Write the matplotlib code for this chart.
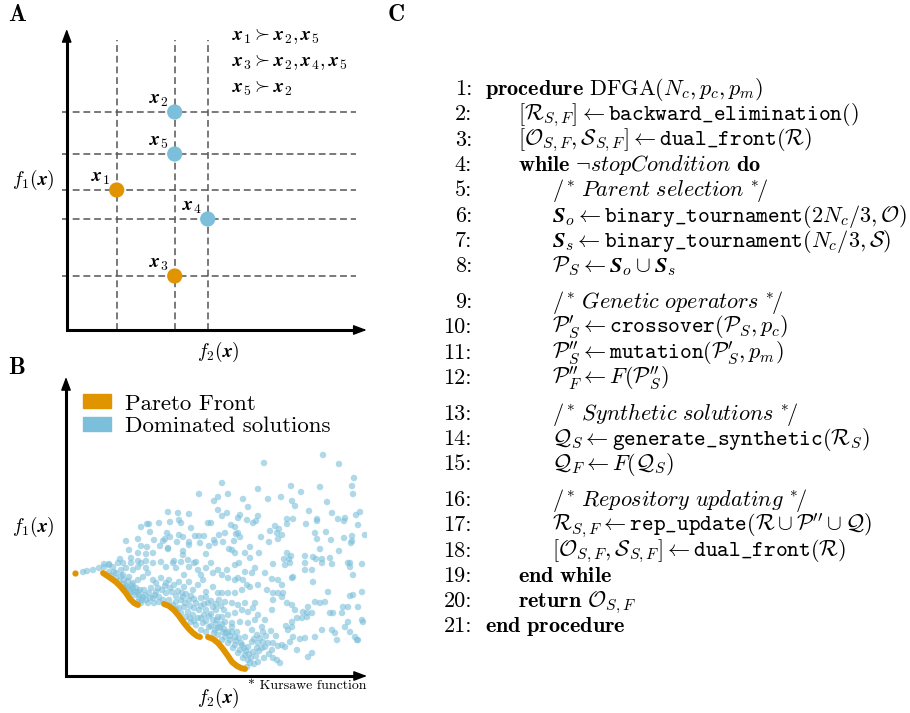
import matplotlib.pyplot as plt
from matplotlib.patches import Patch

plt.rcParams['mathtext.fontset'] = 'cm'
plt.rcParams['font.family'] = 'serif'
plt.rcParams['font.serif'] = ['cmr10']
plt.rcParams['axes.unicode_minus'] = False

ORANGE = '#E09400'
BLUE = '#7BBFDB'
W, H = 910, 713

# ---- panel A: toy dominance example ----
labels_A = ['1', '2', '3', '4', '5']
f2_A = [50, 108, 108, 141, 108]
f1_A = [140, 218, 54, 111, 176]
on_front_A = [True, False, True, False, False]
dominance_A = [r'$\mathbfit{x}_1 \succ \mathbfit{x}_2,\mathbfit{x}_5$',
               r'$\mathbfit{x}_3 \succ \mathbfit{x}_2,\mathbfit{x}_4,\mathbfit{x}_5$',
               r'$\mathbfit{x}_5 \succ \mathbfit{x}_2$']

# ---- panel B: Kursawe function ----
front_B = [
    [(9, 103)],
    [(37, 103), (43, 99), (50, 94), (55, 89), (60, 83), (64, 77), (68, 73), (72, 71)],
    [(98, 72), (103, 70), (108, 66), (113, 60), (118, 53), (123, 47), (127, 43), (131, 40), (134, 39)],
    [(142, 39), (147, 37), (152, 33), (157, 27), (162, 20), (166, 14), (171, 10), (175, 8), (179, 7)],
]
dominated_B = [
    (133, 182), (148, 175), (152, 179), (152, 166), (102, 164), (112, 163), (123, 162), (81, 152),
    (75, 149), (83, 152), (93, 153), (104, 154), (113, 156), (115, 153), (142, 153), (145, 153),
    (125, 148), (84, 144), (101, 143), (113, 141), (117, 139), (129, 140), (133, 140), (138, 140),
    (153, 141), (60, 135), (72, 137), (88, 136), (97, 135), (99, 137), (104, 139), (111, 134),
    (123, 134), (134, 133), (148, 136), (75, 130), (81, 129), (94, 130), (102, 128), (123, 131),
    (143, 130), (63, 126), (72, 123), (80, 122), (87, 123), (102, 127), (117, 125), (117, 121),
    (140, 122), (65, 118), (54, 117), (72, 115), (80, 115), (95, 114), (108, 115), (122, 116),
    (130, 114), (145, 113), (38, 112), (43, 112), (52, 113), (57, 113), (65, 113),
    (257, 221), (198, 213), (273, 212), (288, 198), (156, 193), (286, 190), (192, 187), (225, 190),
    (254, 189), (162, 182), (215, 179), (235, 184), (287, 182), (177, 177), (202, 177), (226, 175),
    (261, 174), (229, 170), (182, 169), (243, 165), (266, 163), (294, 164), (290, 161), (161, 163),
    (156, 160), (174, 161), (192, 160), (172, 158), (181, 156), (190, 155), (187, 153), (221, 157),
    (227, 157), (251, 157), (251, 155), (272, 157), (279, 158), (278, 155), (165, 151), (169, 149),
    (209, 150), (221, 152), (240, 152), (292, 151), (159, 143), (170, 142), (172, 143), (204, 145),
    (211, 143), (213, 147), (216, 141), (249, 143), (260, 144), (286, 140), (299, 141), (149, 133),
    (157, 134), (168, 135), (174, 139), (195, 139), (203, 134), (212, 137), (251, 137), (265, 136),
    (278, 138), (285, 133), (286, 135), (163, 127), (166, 126), (169, 123), (184, 129), (254, 127),
    (273, 125), (179, 123), (193, 123), (221, 123), (225, 120), (218, 117), (223, 117), (239, 120),
    (247, 119), (250, 117), (256, 117), (264, 118), (173, 113), (184, 118), (207, 112), (239, 113),
    (256, 113), (266, 112), (284, 113),
    (17, 104), (21, 105), (27, 106), (33, 108), (38, 109), (43, 111), (47, 109), (55, 106),
    (60, 108), (67, 106), (72, 109), (75, 113), (80, 108), (87, 113), (100, 109), (107, 113),
    (110, 108), (115, 114), (118, 101), (123, 109), (128, 113), (132, 106), (135, 101), (140, 108),
    (147, 103), (152, 106), (43, 104), (50, 103), (57, 101), (58, 96), (63, 99), (67, 93),
    (72, 96), (77, 99), (82, 103), (87, 96), (90, 93), (95, 98), (100, 93), (103, 96),
    (108, 91), (113, 94), (118, 89), (123, 94), (127, 86), (132, 91), (137, 96), (140, 84),
    (147, 89), (152, 83), (62, 89), (65, 84), (68, 81), (72, 84), (73, 78), (77, 79),
    (80, 76), (83, 83), (87, 78), (90, 84), (93, 79), (97, 76), (100, 83), (72, 74),
    (78, 86), (85, 88), (67, 88), (75, 73), (82, 73), (88, 73), (93, 74), (103, 76),
    (107, 71), (110, 74), (113, 68), (115, 63), (118, 69), (120, 59), (122, 64), (125, 54),
    (127, 61), (130, 51), (132, 58), (133, 66), (135, 46), (137, 53), (138, 61), (140, 44),
    (142, 73), (143, 49), (147, 56), (148, 43), (150, 66), (152, 48), (153, 76), (117, 79),
    (123, 76), (130, 73), (140, 79), (147, 69), (152, 59),
    (149, 46), (152, 41), (156, 36), (159, 39), (162, 33), (164, 36), (167, 28), (169, 31),
    (172, 23), (174, 26), (177, 18), (179, 21), (182, 16), (184, 13), (181, 9), (154, 49),
    (157, 44), (162, 44), (169, 39), (176, 31), (166, 49), (171, 44), (179, 39), (182, 29),
    (186, 34), (191, 28), (196, 28), (199, 29), (202, 33), (192, 33), (197, 34), (206, 26),
    (207, 18), (211, 16), (214, 13), (216, 31), (219, 29), (224, 34), (231, 26), (242, 19),
    (246, 23), (249, 39), (239, 38), (234, 37), (227, 39), (222, 46), (226, 49), (220, 50),
    (226, 54), (231, 58), (236, 58), (241, 59), (246, 63), (242, 69), (249, 74), (256, 46),
    (266, 46), (269, 43), (271, 36), (279, 49), (284, 44), (289, 39), (292, 36), (297, 54),
    (296, 56), (282, 54), (277, 69), (282, 69), (292, 69), (287, 81), (284, 80), (296, 84),
    (262, 84), (259, 74), (254, 73), (264, 63), (267, 63), (276, 63), (241, 63), (237, 64),
    (229, 66), (226, 71), (221, 73), (216, 79), (212, 83), (207, 83), (217, 83), (206, 97),
    (212, 96), (216, 91), (226, 98), (227, 99), (224, 113), (219, 111), (246, 106), (239, 106),
    (247, 94), (282, 113), (284, 109), (287, 101), (296, 112), (291, 36),
    (156, 101), (162, 98), (169, 96), (172, 98), (177, 96), (181, 91), (184, 89), (176, 86),
    (169, 83), (162, 83), (156, 83), (159, 74), (166, 73), (172, 71), (179, 73), (189, 73),
    (187, 68), (182, 64), (176, 66), (169, 63), (162, 61), (156, 59), (151, 56), (159, 54),
    (166, 53), (174, 54), (182, 53), (189, 56), (192, 61), (186, 46), (191, 41), (197, 44),
    (196, 49), (199, 56), (206, 66), (207, 76), (201, 86), (192, 91), (186, 103), (179, 104),
    (189, 108), (169, 111), (161, 106), (199, 103),
    # the solid band just above the front
    (45, 100), (50, 98), (53, 95), (57, 92), (60, 90), (48, 104), (55, 100), (62, 95),
    (66, 91), (70, 88), (74, 86), (58, 88), (64, 86), (69, 84), (73, 81), (76, 76),
    (79, 81), (84, 78), (89, 81), (92, 88), (96, 86), (99, 90), (104, 88), (106, 84),
    (110, 80), (112, 85), (116, 83), (120, 82), (125, 80), (128, 77), (135, 78), (138, 72),
    (145, 75), (150, 72), (155, 70), (158, 66), (145, 62), (140, 66), (135, 70), (128, 68),
    (124, 70), (119, 73), (115, 76), (110, 67), (124, 58), (128, 55), (135, 58), (140, 55),
    (143, 60), (145, 50), (150, 52), (156, 52), (158, 47), (160, 43), (164, 40), (166, 44),
    (170, 35), (173, 38), (175, 33), (178, 28), (180, 25), (183, 22), (185, 18), (187, 24),
    (190, 20), (193, 25), (188, 37), (194, 38), (200, 40), (205, 45), (210, 40), (207, 33),
    (212, 30), (203, 22), (198, 18), (192, 14), (188, 12),
]

# ---- panel C: algorithm listing (indent level, text) ----
algorithm = [
    (0, r'$\mathbf{procedure}\ \mathrm{DFGA}(N_c, p_c, p_m)$'),
    (1, r'$[\mathcal{R}_{S,F}] \leftarrow \mathtt{backward\_elimination()}$'),
    (1, r'$[\mathcal{O}_{S,F}, \mathcal{S}_{S,F}] \leftarrow \mathtt{dual\_front(}\mathcal{R}\mathtt{)}$'),
    (1, r'$\mathbf{while}\ \neg stopCondition\ \mathbf{do}$'),
    (2, r'$/^{*}\ \mathit{Parent\ selection}\ {}^{*}\!/$'),
    (2, r'$\mathbfit{S}_o \leftarrow \mathtt{binary\_tournament(}2N_c/3, \mathcal{O}\mathtt{)}$'),
    (2, r'$\mathbfit{S}_s \leftarrow \mathtt{binary\_tournament(}N_c/3, \mathcal{S}\mathtt{)}$'),
    (2, r'$\mathcal{P}_S \leftarrow \mathbfit{S}_o \cup \mathbfit{S}_s$'),
    (2, r'$/^{*}\ \mathit{Genetic\ operators}\ {}^{*}\!/$'),
    (2, r'$\mathcal{P}^{\prime}_S \leftarrow \mathtt{crossover(}\mathcal{P}_S, p_c\mathtt{)}$'),
    (2, r'$\mathcal{P}^{\prime\prime}_S \leftarrow \mathtt{mutation(}\mathcal{P}^{\prime}_S, p_m\mathtt{)}$'),
    (2, r'$\mathcal{P}^{\prime\prime}_F \leftarrow F(\mathcal{P}^{\prime\prime}_S)$'),
    (2, r'$/^{*}\ \mathit{Synthetic\ solutions}\ {}^{*}\!/$'),
    (2, r'$\mathcal{Q}_S \leftarrow \mathtt{generate\_synthetic(}\mathcal{R}_S\mathtt{)}$'),
    (2, r'$\mathcal{Q}_F \leftarrow F(\mathcal{Q}_S)$'),
    (2, r'$/^{*}\ \mathit{Repository\ updating}\ {}^{*}\!/$'),
    (2, r'$\mathcal{R}_{S,F} \leftarrow \mathtt{rep\_update(}\mathcal{R} \cup \mathcal{P}^{\prime\prime} \cup \mathcal{Q}\mathtt{)}$'),
    (2, r'$[\mathcal{O}_{S,F}, \mathcal{S}_{S,F}] \leftarrow \mathtt{dual\_front(}\mathcal{R}\mathtt{)}$'),
    (1, r'$\mathbf{end\ while}$'),
    (1, r'$\mathbf{return}\ \mathcal{O}_{S,F}$'),
    (0, r'$\mathbf{end\ procedure}$'),
]
blank_before = [9, 13, 16]


def fx(x):
    return x / W


def fy(y):
    return 1 - y / H


def arrow_axes(ax, xmax, ymax):
    ax.plot([0, 0, xmax - 8], [ymax - 8, 0, 0], color='k', lw=2.2,
            solid_joinstyle='miter', solid_capstyle='butt', clip_on=False)
    head = dict(arrowstyle='-|>,head_length=0.8,head_width=0.3', color='k',
                lw=1, shrinkA=0, shrinkB=0, mutation_scale=10)
    ax.annotate('', xy=(0, ymax), xytext=(0, ymax - 12), arrowprops=head,
                annotation_clip=False)
    ax.annotate('', xy=(xmax, 0), xytext=(xmax - 12, 0), arrowprops=head,
                annotation_clip=False)
    ax.set_xlim(0, xmax)
    ax.set_ylim(0, ymax)
    ax.axis('off')


fig = plt.figure(figsize=(W / 100, H / 100), dpi=100)

# panel A
axA = fig.add_axes([fx(66.7), fy(330), 300 / W, 301 / H])
arrow_axes(axA, 300, 301)
axA.vlines(sorted(set(f2_A)), 0, 290, colors='#555555', lw=1.1,
           linestyles=(0, (4.5, 2.5)), zorder=1)
axA.hlines(f1_A, -5, 289, colors='#555555', lw=1.1,
           linestyles=(0, (4.5, 2.5)), zorder=1, clip_on=False)
for lab, a, b, pf in zip(labels_A, f2_A, f1_A, on_front_A):
    axA.scatter(a, b, s=120, color=ORANGE if pf else BLUE, zorder=3,
                edgecolors='none', clip_on=False)
    axA.annotate(r'$\mathbfit{x}_%s$' % lab, (a, b), xytext=(-11.5, 8.6),
                 textcoords='offset points', ha='center', va='center',
                 fontsize=14)
for i, s in enumerate(dominance_A):
    fig.text(fx(232), fy(40 + 26.5 * i), s, fontsize=14, va='baseline')
fig.text(fx(33), fy(180), r'$f_1(\mathbfit{x})$', fontsize=14,
         ha='center', va='center')
fig.text(fx(218), fy(352), r'$f_2(\mathbfit{x})$', fontsize=14,
         ha='center', va='center')

# panel B
axB = fig.add_axes([fx(66), fy(676), 301 / W, 299 / H])
arrow_axes(axB, 301, 299)
xs, ys = zip(*dominated_B)
axB.scatter(xs, ys, s=22, color=BLUE, alpha=0.6, edgecolors='none', zorder=2)
for seg in front_B:
    sx, sy = zip(*seg)
    if len(seg) == 1:
        axB.plot(sx, sy, 'o', color=ORANGE, ms=4.5, mec='none', zorder=3)
    else:
        axB.plot(sx, sy, color=ORANGE, lw=4.3, solid_capstyle='round',
                 solid_joinstyle='round', zorder=3)
axB.legend(handles=[Patch(color=ORANGE, label='Pareto Front'),
                    Patch(color=BLUE, label='Dominated solutions')],
           loc='upper left', bbox_to_anchor=(17 / 301, 282 / 299),
           frameon=False, prop={'size': 16.5}, handlelength=1.22,
           handleheight=0.57, handletextpad=0.6, labelspacing=0.15,
           borderpad=0, borderaxespad=0)
fig.text(fx(33), fy(527), r'$f_1(\mathbfit{x})$', fontsize=14,
         ha='center', va='center')
fig.text(fx(218), fy(698), r'$f_2(\mathbfit{x})$', fontsize=14,
         ha='center', va='center')
fig.text(fx(367), fy(686), '* Kursawe function', fontsize=10,
         ha='right', va='center')

# panel C
indent_x = [485, 518, 552]
y = 95
for n, (lvl, txt) in enumerate(algorithm, start=1):
    if n in blank_before:
        y += 10.5
    fig.text(fx(472), fy(y), '%d:' % n, fontsize=16, ha='right', va='baseline')
    fig.text(fx(indent_x[lvl]), fy(y), txt, fontsize=16, ha='left', va='baseline')
    y += 25.3

for lab, x, yy in [('A', 17, 15), ('B', 17, 368), ('C', 396, 15)]:
    fig.text(fx(x), fy(yy), r'$\mathbf{%s}$' % lab, fontsize=17,
             ha='center', va='center')

fig.savefig('out.png', dpi=100)
